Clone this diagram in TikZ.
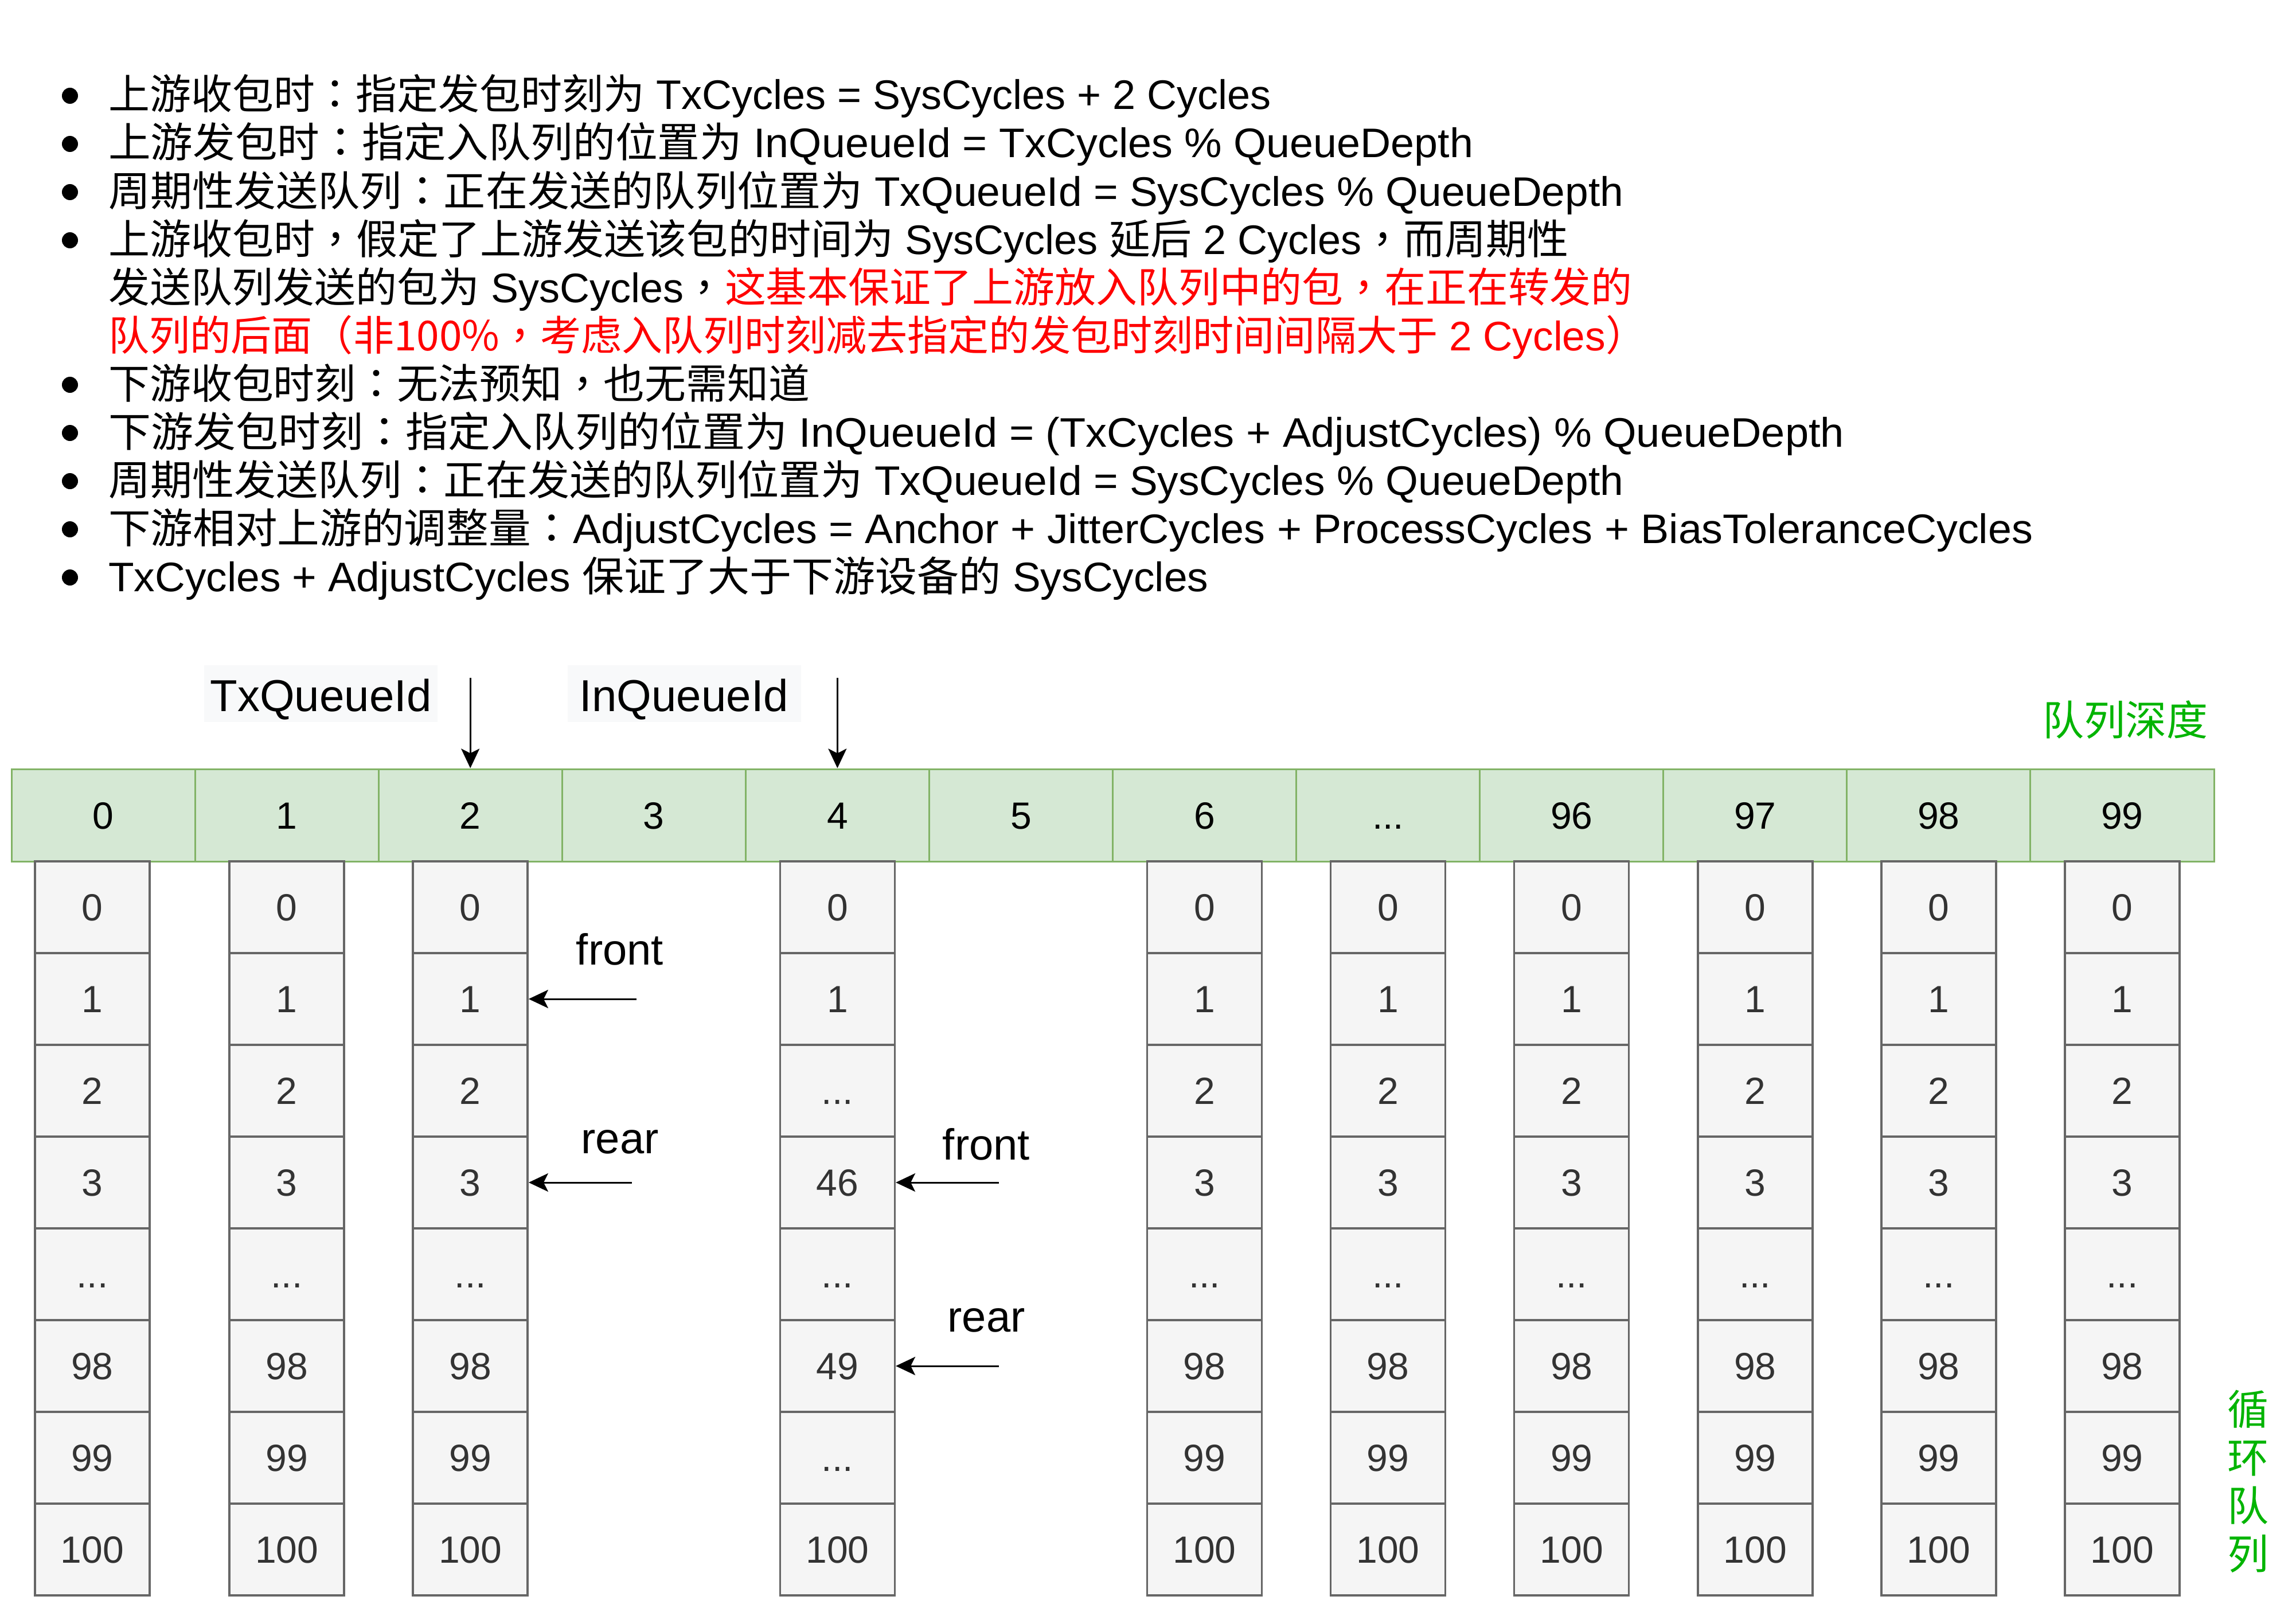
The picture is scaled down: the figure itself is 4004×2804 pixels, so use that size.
\documentclass[tikz,border=0pt]{standalone}
\usepackage{fontspec}
\usepackage{graphicx}
\setmainfont{Liberation Sans}
\newfontfamily\cjk{Noto Sans CJK SC}
\newfontfamily\cjkp{Noto Sans CJK TC}
\usetikzlibrary{arrows.meta}
\definecolor{hdrfill}{HTML}{D5E8D4}
\definecolor{hdrdraw}{HTML}{82B366}
\definecolor{cellfill}{HTML}{F5F5F5}
\definecolor{celldraw}{HTML}{666666}
\definecolor{celltext}{HTML}{333333}
\definecolor{lblfill}{HTML}{F8F9FA}
\definecolor{mygreen}{HTML}{00B400}
\definecolor{myred}{HTML}{FF0000}
\newcommand\zh[1]{{\cjk #1}}
\newcommand\pc{{\cjkp ，}}
\newcommand\pco{{\cjkp ：}}
\newcommand\plp{{\cjkp （}}
\newcommand\prp{{\cjkp ）}}
\newcommand\ddd{...}
\begin{document}
\begin{tikzpicture}[x=1pt,y=-1pt,
  hdr/.style={draw=hdrdraw, fill=hdrfill, line width=3pt, minimum width=320.08pt, minimum height=161pt, inner sep=0pt, text height=47pt, text depth=0pt, font=\fontsize{66}{70}\selectfont},
  qcell/.style={draw=celldraw, fill=cellfill, line width=3.5pt, minimum width=200pt, minimum height=160pt, inner sep=0pt, text=celltext, text height=47pt, text depth=0pt, font=\fontsize{66}{70}\selectfont},
  lbl/.style={fill=lblfill, minimum width=407pt, minimum height=99pt, inner sep=0pt, text height=62pt, text depth=0pt, font=\fontsize{78}{82}\selectfont},
  ptr/.style={anchor=base, inner sep=0pt, font=\fontsize{76}{80}\selectfont},
  arr/.style={line width=3pt, -{Stealth[length=34pt,width=32pt,inset=8pt]}},
  tline/.style={anchor=base west, inner sep=0pt, font=\fontsize{72}{84}\selectfont},
  bul/.style={fill=black}
]
\fill[white] (0,0) rectangle (4004,2804);
\useasboundingbox (0,0) rectangle (4004,2804);

% bullet text
\foreach \k in {0,1,2,3,6,7,8,9,10}{
  \fill[bul] (122,167+84*\k) circle[radius=14pt];
}
\node[tline] (l1) at (189,191) {\resizebox{2027pt}{\height}{\zh{上游收包时\pco 指定发包时刻为} TxCycles = SysCycles + 2 Cycles}};
\node[tline] (l2) at (189,275) {\resizebox{2380pt}{\height}{\zh{上游发包时\pco 指定入队列的位置为} InQueueId = TxCycles \% QueueDepth}};
\node[tline] (l3) at (189,359) {\resizebox{2642pt}{\height}{\zh{周期性发送队列\pco 正在发送的队列位置为} TxQueueId = SysCycles \% QueueDepth}};
\node[tline] (l4) at (189,443) {\resizebox{2546pt}{\height}{\zh{上游收包时\pc 假定了上游发送该包的时间为} SysCycles \zh{延后} 2 Cycles\zh{\pc 而周期性}}};
\node[tline] (l5) at (189,527) {\resizebox{2657pt}{\height}{\zh{发送队列发送的包为} SysCycles\pc\textcolor{myred}{\zh{这基本保证了上游放入队列中的包\pc 在正在转发的}}}};
\node[tline] (l6) at (189,611) {\resizebox{2682pt}{\height}{\textcolor{myred}{\zh{队列的后面\plp 非100\%\pc 考虑入队列时刻减去指定的发包时刻时间间隔大于} 2 Cycles\prp}}};
\node[tline] (l7) at (189,695) {\resizebox{1223pt}{\height}{\zh{下游收包时刻\pco 无法预知\pc 也无需知道}}};
\node[tline] (l8) at (189,779) {\resizebox{3027pt}{\height}{\zh{下游发包时刻\pco 指定入队列的位置为} InQueueId = (TxCycles + AdjustCycles) \% QueueDepth}};
\node[tline] (l9) at (189,863) {\resizebox{2642pt}{\height}{\zh{周期性发送队列\pco 正在发送的队列位置为} TxQueueId = SysCycles \% QueueDepth}};
\node[tline] (l10) at (189,947) {\resizebox{3356pt}{\height}{\zh{下游相对上游的调整量\pco}AdjustCycles = Anchor + JitterCycles + ProcessCycles + BiasToleranceCycles}};
\node[tline] (l11) at (189,1031) {\resizebox{1918pt}{\height}{TxCycles + AdjustCycles \zh{保证了大于下游设备的} SysCycles}};

% header row
\foreach \i/\t in {0/0,1/1,2/2,3/3,4/4,5/5,6/6,7/\ddd,8/96,9/97,10/98,11/99}{
  \node[hdr] (h\i) at (180.04+320.08*\i,1421.5) {\t};
}

% queue columns
\foreach \i/\cx in {0/161,1/500.12,2/820.2,6/2100.52,7/2420.6,8/2740.68,9/3060.76,10/3380.84,11/3700.92}{
  \foreach \j/\t in {0/0,1/1,2/2,3/3,4/\ddd,5/98,6/99,7/100}{
    \node[qcell] (c\i-\j) at (\cx,1582+160*\j) {\t};
  }
}
\foreach \j/\t in {0/0,1/1,2/\ddd,3/46,4/\ddd,5/49,6/\ddd,7/100}{
  \node[qcell] (c4-\j) at (1460.36,1582+160*\j) {\t};
}

% labels
\node[lbl] (txl) at (559.5,1209.5) {TxQueueId};
\node[lbl] (inl) at (1193,1209.5) {InQueueId};
\coordinate (tq) at (820.2,1182);
\coordinate (iq) at (1460.36,1182);
\draw[arr] (tq) -- (h2.north);
\draw[arr] (iq) -- (h4.north);

\node[ptr] (f1) at (1081,1682) {front};
\node[ptr] (r1) at (1081,2011) {rear};
\node[ptr] (f2) at (1720,2022) {front};
\node[ptr] (r2) at (1720,2322) {rear};
\coordinate (fa1) at (1110,1742);
\coordinate (ra1) at (1102,2062);
\coordinate (fa2) at (1742,2062);
\coordinate (ra2) at (1742,2382);
\draw[arr] (fa1) -- (c2-1.east);
\draw[arr] (ra1) -- (c2-3.east);
\draw[arr] (fa2) -- (c4-3.east);
\draw[arr] (ra2) -- (c4-5.east);

% green annotations
\node[inner sep=0pt, text=mygreen, font={\cjk\fontsize{72}{84}\selectfont}] (qd) at (3706,1255) {队列深度};
\node[inner sep=0pt, text=mygreen, align=center, font={\cjk\fontsize{72}{84}\selectfont}] (cq) at (3920,2583) {循\\环\\队\\列};
\end{tikzpicture}
\end{document}
